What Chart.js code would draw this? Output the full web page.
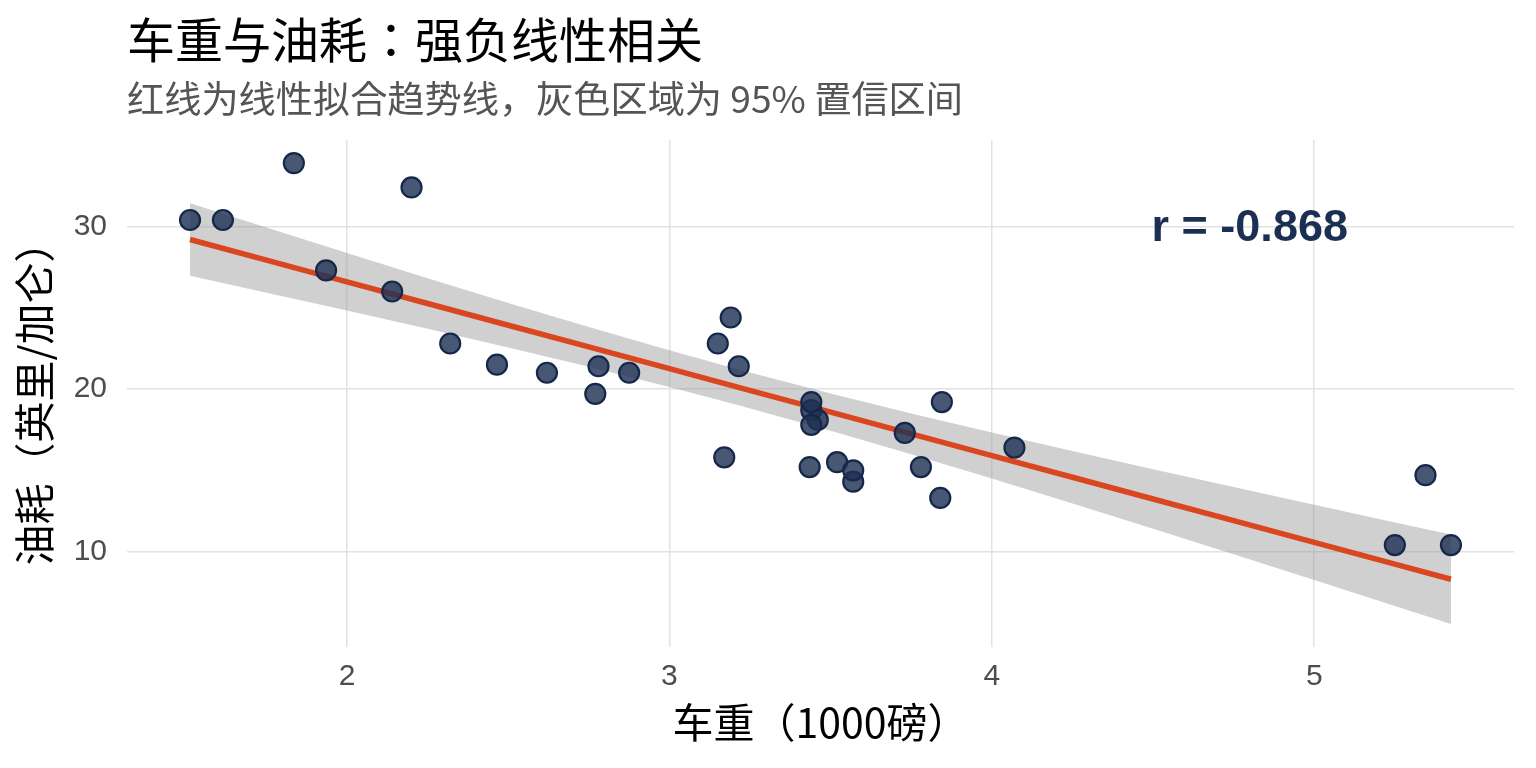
<!DOCTYPE html>
<html>
<head>
<meta charset="utf-8">
<script src="https://cdn.jsdelivr.net/npm/chart.js@4"></script>
<style>
html,body{margin:0;padding:0;background:#fff;}
canvas{display:block;}
</style>
</head>
<body>
<canvas id="c" width="1536" height="768"></canvas>
<script>
// ---- data (mtcars: weight in 1000 lbs, mpg) ----
const weight = [2.620,2.875,2.320,3.215,3.440,3.460,3.570,3.190,3.150,3.440,3.440,4.070,3.730,3.780,5.250,5.424,5.345,2.200,1.615,1.835,2.465,3.520,3.435,3.840,3.845,1.935,2.140,1.513,3.170,2.770,3.570,2.780];
const mpg    = [21.0,21.0,22.8,21.4,18.7,18.1,14.3,24.4,22.8,19.2,17.8,16.4,17.3,15.2,10.4,10.4,14.7,32.4,30.4,33.9,21.5,15.5,15.2,13.3,19.2,27.3,26.0,30.4,15.8,19.7,15.0,21.4];

// fitted trend line and 95% confidence band (read along the band)
const bandX     = [1.513,1.75,2.0,2.25,2.5,2.75,3.0,3.217,3.5,3.75,4.0,4.25,4.5,4.75,5.0,5.25,5.424];
const fitY      = [29.199,27.932,26.596,25.260,23.924,22.588,21.252,20.092,18.579,17.243,15.907,14.571,13.235,11.899,10.563,9.227,8.297];
const bandUpper = [31.434,29.936,28.368,26.818,25.295,23.810,22.379,21.192,19.725,18.500,17.324,16.183,15.066,13.966,12.877,11.795,11.046];
const bandLower = [26.964,25.928,24.824,23.702,22.553,21.366,20.125,18.992,17.433,15.986,14.490,12.959,11.404,9.832,8.249,6.659,5.548];

const xTicks = [2,3,4,5];
const yTicks = [10,20,30];
const rLabel = "r = -0.868";
const rPos = {x: 4.8, y: 30};

const titleText = "车重与油耗：强负线性相关";
const subtitleText = "红线为线性拟合趋势线，灰色区域为 95% 置信区间";
const xTitle = "车重（1000磅）";
const yTitle = "油耗（英里/加仑）";

const pts = weight.map((w,i)=>({x:w, y:mpg[i]}));
const fitPts = bandX.map((x,i)=>({x:x, y:fitY[i]}));
const upPts = bandX.map((x,i)=>({x:x, y:bandUpper[i]}));
const loPts = bandX.map((x,i)=>({x:x, y:bandLower[i]}));

const CJK = "'Noto Sans CJK KR','Noto Sans CJK SC','Noto Sans',sans-serif";
const CJK_AX = "'Noto Sans CJK TC','Noto Sans CJK SC','Noto Sans',sans-serif";
const LAT = "'Liberation Sans','DejaVu Sans',Arial,sans-serif";

const textPlugin = {
  id: 'texts',
  afterDraw(chart){
    const ctx = chart.ctx;
    const ca = chart.chartArea;
    ctx.save();
    ctx.textAlign = 'left';
    ctx.textBaseline = 'middle';
    ctx.fillStyle = '#000000';
    ctx.font = "48px " + CJK;
    ctx.fillText(titleText, ca.left, 40);
    ctx.fillStyle = '#555555';
    ctx.font = "37.2px " + CJK;
    ctx.fillText(subtitleText, ca.left, 99);
    const xs = chart.scales.x, ys = chart.scales.y;
    ctx.fillStyle = '#1b2f52';
    ctx.font = "bold 45px " + LAT;
    ctx.textAlign = 'center';
    ctx.fillText(rLabel, xs.getPixelForValue(rPos.x), ys.getPixelForValue(rPos.y) + 2);
    ctx.restore();
  }
};

new Chart(document.getElementById('c'), {
  type: 'scatter',
  data: {
    datasets: [
      { label:'points', data: pts, backgroundColor:'rgba(30,50,85,0.82)', borderColor:'rgba(22,40,74,1)', borderWidth:2.2, pointRadius:10, pointHoverRadius:10, order:0 },
      { label:'fit', data: fitPts, showLine:true, borderColor:'#d9461f', borderWidth:5.5, pointRadius:0, fill:false, order:1 },
      { label:'upper', data: upPts, showLine:true, borderWidth:0, borderColor:'rgba(0,0,0,0)', pointRadius:0, backgroundColor:'rgba(153,153,153,0.46)', fill:'+1', order:2 },
      { label:'lower', data: loPts, showLine:true, borderWidth:0, borderColor:'rgba(0,0,0,0)', pointRadius:0, fill:false, order:3 }
    ]
  },
  options: {
    responsive:false,
    animation:false,
    devicePixelRatio:1,
    layout:{ padding:{ top:140, right:22, bottom:0, left:0 } },
    plugins:{ legend:{display:false}, tooltip:{enabled:false}, title:{display:false} },
    scales:{
      x:{
        type:'linear', min:1.3175, max:5.6196,
        afterBuildTicks: s => { s.ticks = xTicks.map(v=>({value:v})); },
        afterFit: s => { s.height = 121; },
        grid:{ color:'#e2e2e2', lineWidth:1.5, drawTicks:false },
        border:{ display:false },
        ticks:{ color:'#4d4d4d', font:{ family:LAT, size:30 }, padding:12, maxRotation:0 },
        title:{ display:true, text:xTitle, color:'#000', font:{ family:CJK_AX, size:41 }, padding:{top:0, bottom:21} }
      },
      y:{
        type:'linear', min:4.13, max:35.32,
        afterBuildTicks: s => { s.ticks = yTicks.map(v=>({value:v})); },
        afterFit: s => { s.width = 127; },
        grid:{ color:'#e2e2e2', lineWidth:1.5, drawTicks:false },
        border:{ display:false },
        ticks:{ color:'#4d4d4d', font:{ family:LAT, size:30 }, padding:20 },
        title:{ display:true, text:yTitle, color:'#000', font:{ family:CJK_AX, size:41 }, padding:{top:10, bottom:0} }
      }
    }
  },
  plugins:[textPlugin]
});
</script>
</body>
</html>
